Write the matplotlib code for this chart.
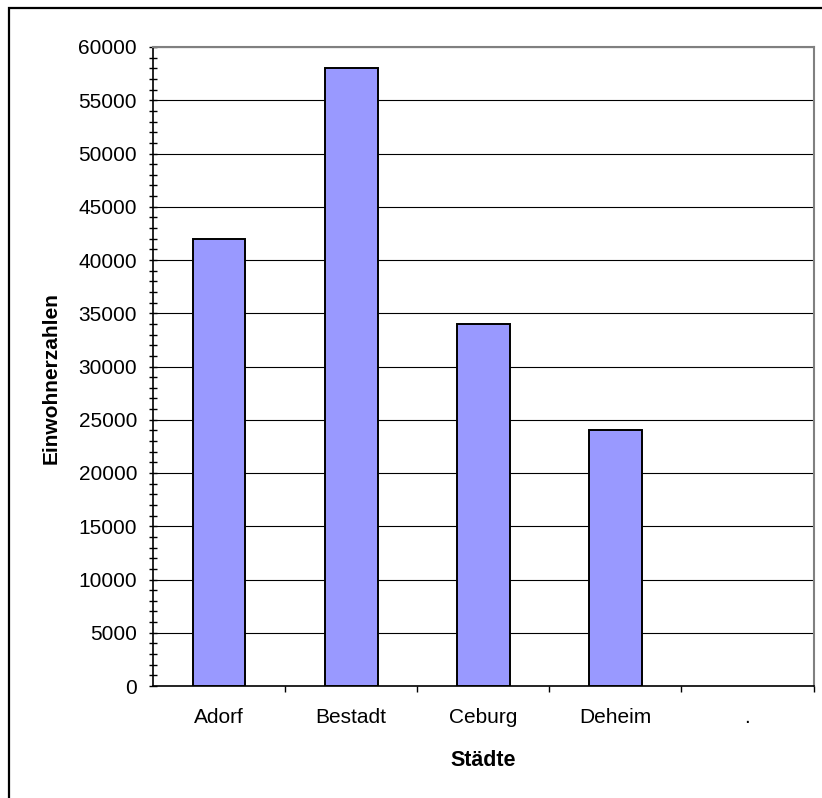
import numpy as np
import matplotlib
matplotlib.use("Agg")
import matplotlib.pyplot as plt
from matplotlib.patches import Rectangle
from matplotlib.ticker import MultipleLocator, FixedLocator

plt.rcParams['font.family'] = ['Liberation Sans', 'DejaVu Sans']

categories = ["Adorf", "Bestadt", "Ceburg", "Deheim", "."]
values = [42000, 58000, 34000, 24000, np.nan]
y_label = "Einwohnerzahlen"
x_label = "Städte"

W, H = 822, 798
fig = plt.figure(figsize=(W / 100, H / 100), dpi=100)
fig.patch.set_facecolor("white")

# outer chart border (only top/left visible)
fig.patches.append(Rectangle((9 / W, -0.05), 1.1, (H - 8) / H + 0.05,
                             transform=fig.transFigure, fill=False,
                             edgecolor="black", linewidth=1.6, clip_on=False))

left, right, top, bottom = 153, 813.5, 47, 686
ax = fig.add_axes([left / W, (H - bottom) / H, (right - left) / W, (bottom - top) / H])

x = np.arange(len(categories))
mask = ~np.isnan(np.array(values, dtype=float))
ax.bar(x[mask], np.array(values)[mask], width=0.4, color="#9999FF",
       edgecolor="black", linewidth=1.4, zorder=3)

ax.set_xlim(-0.5, len(categories) - 0.5)
ax.set_ylim(0, 60000)

ax.yaxis.set_major_locator(MultipleLocator(5000))
ax.yaxis.set_minor_locator(MultipleLocator(1000))
ax.grid(axis="y", which="major", color="black", linewidth=0.8, zorder=1)

ax.set_xticks(x)
ax.set_xticklabels(categories)
ax.xaxis.set_minor_locator(FixedLocator(np.arange(0.5, len(categories), 1.0)))

ax.tick_params(axis="y", which="both", direction="inout", length=6, width=1.0,
               colors="black", labelsize=15, pad=8.5)
ax.tick_params(axis="x", which="major", length=0, labelsize=15, pad=16)
ax.tick_params(axis="x", which="minor", direction="out", length=4, width=1.0)

for s in ["left", "bottom"]:
    ax.spines[s].set_color("black")
    ax.spines[s].set_linewidth(1.2)
for s in ["top", "right"]:
    ax.spines[s].set_color("#808080")
    ax.spines[s].set_linewidth(1.5)

ax.set_ylabel(y_label, fontsize=15, fontweight="bold")
ax.yaxis.set_label_coords(-0.154, 0.482)
ax.yaxis.label.set_va("center")
ax.set_xlabel(x_label, fontsize=15.5, fontweight="bold")
ax.xaxis.set_label_coords(0.5, -0.117)
ax.xaxis.label.set_va("center")

fig.savefig("out.png", dpi=100, facecolor="white")
